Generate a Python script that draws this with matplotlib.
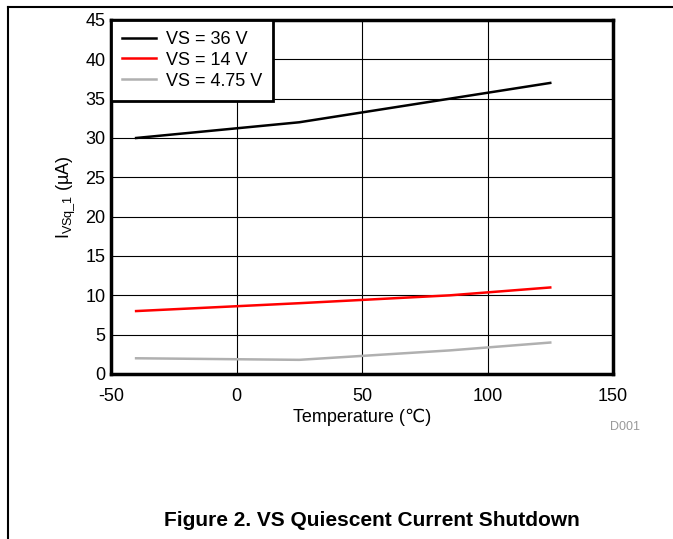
import matplotlib
matplotlib.use("Agg")
import matplotlib.pyplot as plt
from matplotlib.lines import Line2D

plt.rcParams['font.family'] = ['Liberation Sans', 'DejaVu Sans']
plt.rcParams['mathtext.fontset'] = 'custom'
plt.rcParams['mathtext.rm'] = 'Liberation Sans'
plt.rcParams['axes.unicode_minus'] = False

# data
temperature = [-40, 25, 85, 125]
vs_36 = [30, 32, 35, 37]
vs_14 = [8, 9, 10, 11]
vs_475 = [2, 1.8, 3, 4]

series = [
    ('VS = 36 V', vs_36, 'black'),
    ('VS = 14 V', vs_14, '#ff0000'),
    ('VS = 4.75 V', vs_475, '#b0b0b0'),
]

x_ticks = [-50, 0, 50, 100, 150]
y_ticks = [0, 5, 10, 15, 20, 25, 30, 35, 40, 45]

W, H = 673, 539
fig = plt.figure(figsize=(W / 100, H / 100), dpi=100)
ax = fig.add_axes([111 / W, 1 - 374 / H, (613 - 111) / W, (374 - 20) / H])

for label, vals, color in series:
    ax.plot(temperature, vals, color=color, lw=1.8, label=label)

ax.set_xlim(-50, 150)
ax.set_ylim(0, 45)
ax.set_xticks(x_ticks)
ax.set_yticks(y_ticks)
ax.grid(True, color='black', lw=0.8)
ax.tick_params(length=0, labelsize=13)
ax.tick_params(axis='x', pad=10)
ax.tick_params(axis='y', pad=4)
for sp in ax.spines.values():
    sp.set_linewidth(2.5)

ax.set_xlabel('Temperature (℃)', fontsize=13, labelpad=3)
ax.set_ylabel(r'I$_{\mathregular{VSq\_1}}$ (µA)', fontsize=13, labelpad=6)

leg = ax.legend(loc='upper left', fontsize=13, frameon=True, fancybox=False,
                borderaxespad=0, handlelength=1.9, handletextpad=0.55,
                labelspacing=0.22, borderpad=0.6, framealpha=1)
leg.get_frame().set_edgecolor('black')
leg.get_frame().set_linewidth(2)

fig.text(625 / W, 1 - 427 / H, 'D001', fontsize=9, color='#999999',
         ha='center', va='center')
fig.text(372 / W, 1 - 521 / H, 'Figure 2. VS Quiescent Current Shutdown',
         fontsize=15, fontweight='bold', ha='center', va='center')

# page frame lines
fig.add_artist(Line2D([8 / W, 1], [1 - 7 / H, 1 - 7 / H], color='black', lw=1.5,
                      transform=fig.transFigure))
fig.add_artist(Line2D([8 / W, 8 / W], [1 - 7 / H, 0], color='black', lw=1.5,
                      transform=fig.transFigure))

fig.savefig('out.png', dpi=100)
